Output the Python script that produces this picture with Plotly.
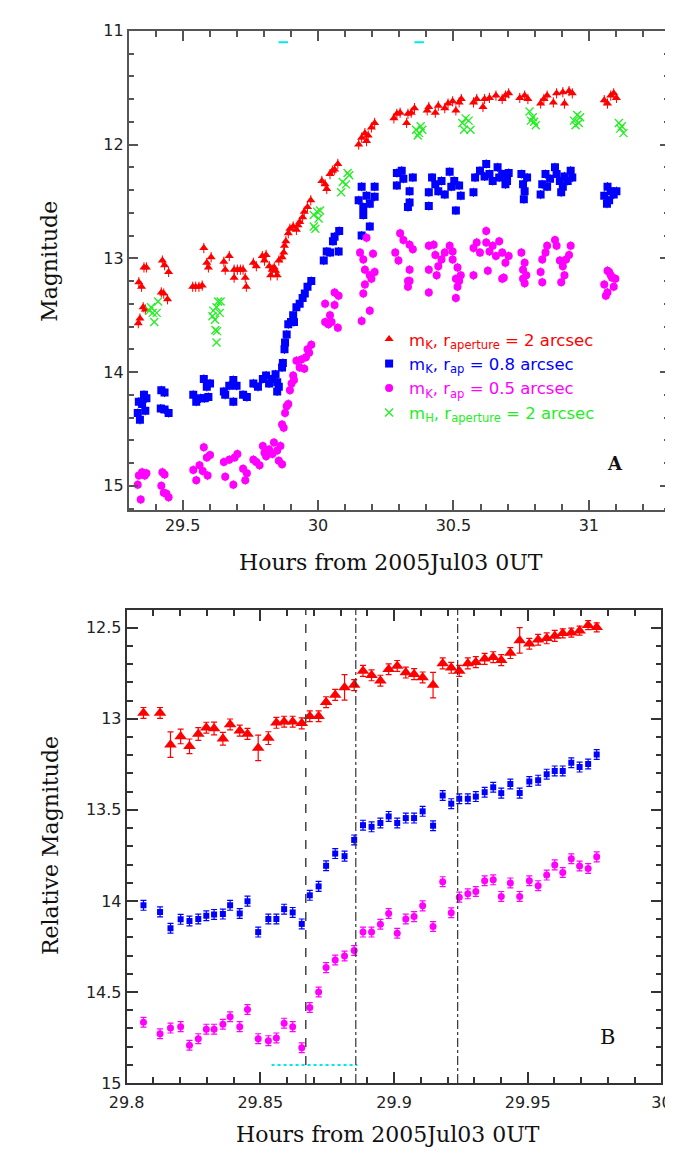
import plotly.graph_objects as go

# ---------------- Panel A data (hours, magnitude) ----------------
RED_A_X = [29.336, 29.342, 29.354, 29.362, 29.338, 29.348, 29.357, 29.366, 29.425, 29.433, 29.448,
           29.421, 29.430, 29.444, 29.537, 29.548, 29.560, 29.572, 29.578, 29.589, 29.595, 29.605,
           29.652, 29.657, 29.672, 29.690, 29.702, 29.713, 29.723, 29.690, 29.731, 29.735,
           29.761, 29.772, 29.794, 29.808, 29.802, 29.820, 29.831, 29.843, 29.849, 29.825, 29.838,
           29.855, 29.867, 29.873, 29.876, 29.881, 29.890, 29.896, 29.908, 29.920, 29.926, 29.932,
           29.943, 29.949, 29.961, 29.973, 30.014, 30.026, 30.032, 30.044, 30.053, 30.061, 30.073,
           30.150, 30.161, 30.173, 30.185, 30.179, 30.197, 30.209, 30.280, 30.291, 30.303, 30.327,
           30.332, 30.344, 30.356, 30.403, 30.409, 30.433, 30.444, 30.468, 30.480, 30.497, 30.509,
           30.521, 30.529, 30.574, 30.586, 30.609, 30.615, 30.633, 30.657, 30.680, 30.692, 30.704,
           30.745, 30.763, 30.775, 30.822, 30.834, 30.846, 30.869, 30.881, 30.904, 30.910, 30.927,
           30.939, 31.057, 31.069, 31.081, 31.092, 31.102]
RED_A_Y = [13.57, 13.53, 13.43, 13.45, 13.21, 13.25, 13.08, 13.08, 13.02, 13.06, 13.12,
           13.30, 13.31, 13.36, 13.25, 13.25, 13.25, 13.24, 12.91, 13.04, 13.08, 12.99,
           13.03, 13.10, 12.98, 13.10, 13.10, 13.10, 13.10, 13.17, 13.17, 13.25,
           13.04, 13.07, 12.98, 12.97, 13.02, 13.07, 13.10, 13.11, 13.15, 13.15, 13.08,
           13.02, 12.99, 12.95, 12.89, 12.85, 12.78, 12.74, 12.72, 12.75, 12.71, 12.68,
           12.64, 12.59, 12.55, 12.49, 12.32, 12.35, 12.39, 12.26, 12.23, 12.22, 12.17,
           12.00, 11.94, 11.90, 11.92, 11.97, 11.85, 11.81, 11.77, 11.73, 11.72, 11.81,
           11.73, 11.72, 11.68, 11.70, 11.67, 11.72, 11.66, 11.68, 11.64, 11.62, 11.70,
           11.63, 11.60, 11.63, 11.60, 11.67, 11.60, 11.59, 11.57, 11.60, 11.57, 11.55,
           11.59, 11.57, 11.60, 11.64, 11.60, 11.57, 11.63, 11.55, 11.54, 11.64, 11.53,
           11.55, 11.61, 11.64, 11.57, 11.55, 11.59]

BLUE_A_X = [29.334, 29.342, 29.338, 29.350, 29.357, 29.366, 29.362, 29.421, 29.433, 29.419, 29.433, 29.448,
            29.539, 29.550, 29.566, 29.581, 29.595, 29.578, 29.589, 29.601,
            29.652, 29.657, 29.672, 29.687, 29.699, 29.687, 29.723, 29.737,
            29.761, 29.778, 29.796, 29.808, 29.819, 29.831, 29.843, 29.849, 29.855, 29.849,
            29.867, 29.870, 29.876, 29.878, 29.884, 29.890, 29.900, 29.911, 29.908, 29.920,
            29.932, 29.943, 29.951, 29.961, 29.975,
            30.021, 30.032, 30.044, 30.055, 30.061, 30.076, 30.078,
            30.150, 30.161, 30.167, 30.179, 30.191, 30.209, 30.209, 30.167, 30.191, 30.161,
            30.291, 30.309, 30.291, 30.315, 30.338, 30.338, 30.332, 30.350,
            30.409, 30.409, 30.421, 30.433, 30.444, 30.456, 30.468, 30.486, 30.492, 30.503, 30.509, 30.521, 30.527,
            30.574, 30.580, 30.598, 30.615, 30.621, 30.633, 30.645, 30.663, 30.669, 30.680, 30.692, 30.704, 30.698,
            30.751, 30.757, 30.763, 30.772, 30.760,
            30.822, 30.828, 30.840, 30.846, 30.857, 30.875, 30.881, 30.893, 30.904, 30.910, 30.922, 30.933, 30.939, 30.898,
            31.057, 31.069, 31.081, 31.092, 31.102, 31.067, 31.075]
BLUE_A_Y = [14.36, 14.42, 14.26, 14.28, 14.20, 14.23, 14.34, 14.16, 14.18, 14.32, 14.33, 14.36,
            14.20, 14.26, 14.23, 14.23, 14.22, 14.06, 14.13, 14.10,
            14.17, 14.20, 14.12, 14.07, 14.12, 14.26, 14.20, 14.22,
            14.10, 14.13, 14.06, 14.03, 14.10, 14.06, 14.02, 14.09, 14.13, 14.17,
            13.96, 13.92, 13.80, 13.74, 13.67, 13.58, 13.56, 13.56, 13.50, 13.43,
            13.40, 13.35, 13.31, 13.25, 13.20,
            13.02, 12.94, 12.95, 12.85, 12.81, 12.94, 12.76,
            12.49, 12.37, 12.55, 12.45, 12.52, 12.37, 12.46, 12.62, 12.72, 12.80,
            12.25, 12.23, 12.36, 12.30, 12.41, 12.51, 12.55, 12.29,
            12.54, 12.42, 12.29, 12.35, 12.41, 12.32, 12.44, 12.24, 12.37, 12.32, 12.58, 12.36, 12.45,
            12.42, 12.29, 12.23, 12.28, 12.17, 12.26, 12.32, 12.20, 12.29, 12.26, 12.35, 12.25, 12.32,
            12.26, 12.35, 12.41, 12.29, 12.48,
            12.44, 12.35, 12.26, 12.37, 12.30, 12.20, 12.26, 12.32, 12.37, 12.28, 12.32, 12.23, 12.29, 12.42,
            12.45, 12.37, 12.41, 12.44, 12.41, 12.52, 12.49]

MAG_A_X = [29.334, 29.338, 29.345, 29.350, 29.360, 29.366,
           29.421, 29.425, 29.433, 29.430, 29.440, 29.448,
           29.539, 29.550, 29.562, 29.574, 29.578, 29.589, 29.601, 29.592,
           29.652, 29.657, 29.672, 29.687, 29.692, 29.702, 29.723, 29.731, 29.737,
           29.761, 29.772, 29.784, 29.796, 29.802, 29.808, 29.819, 29.831, 29.837, 29.849, 29.855, 29.867, 29.861,
           29.867, 29.873, 29.878, 29.884, 29.890, 29.896, 29.902, 29.911, 29.908, 29.920, 29.932, 29.938,
           29.949, 29.955, 29.961, 29.967, 29.975,
           30.026, 30.038, 30.050, 30.026, 30.044, 30.061, 30.061, 30.076, 30.073,
           30.179, 30.155, 30.167, 30.173, 30.191, 30.203, 30.209, 30.167, 30.161, 30.191, 30.173, 30.197,
           30.303, 30.315, 30.285, 30.297, 30.338, 30.350, 30.338, 30.332, 30.332, 30.338,
           30.409, 30.427, 30.433, 30.444, 30.409, 30.456, 30.468, 30.486, 30.497, 30.497, 30.515, 30.527,
           30.509, 30.438, 30.509, 30.515, 30.521, 30.409,
           30.574, 30.586, 30.598, 30.621, 30.621, 30.633, 30.645, 30.657, 30.669, 30.680, 30.692, 30.704,
           30.627, 30.574, 30.680, 30.686,
           30.751, 30.763, 30.769, 30.757, 30.757, 30.763,
           30.828, 30.840, 30.846, 30.822, 30.828, 30.875, 30.881, 30.893, 30.904, 30.916, 30.927, 30.933,
           30.898, 30.910,
           31.057, 31.075, 31.086, 31.098, 31.092, 31.063, 31.069, 31.069, 31.081]
MAG_A_Y = [14.99, 14.91, 15.12, 14.88, 14.91, 14.89,
           15.00, 14.88, 14.90, 15.06, 15.07, 15.10,
           14.86, 14.95, 14.82, 14.87, 14.66, 14.75, 14.73, 14.91,
           14.79, 14.92, 14.77, 14.99, 14.75, 14.72, 14.85, 14.95, 14.89,
           14.77, 14.79, 14.82, 14.65, 14.71, 14.74, 14.68, 14.72, 14.62, 14.69, 14.78, 14.81, 14.65,
           14.46, 14.49, 14.36, 14.30, 14.28, 14.16, 14.10, 14.07, 14.03, 13.90, 13.96, 13.89,
           13.97, 13.87, 13.80, 13.83, 13.76,
           13.56, 13.58, 13.56, 13.40, 13.50, 13.41, 13.30, 13.33, 13.61,
           12.82, 12.95, 13.01, 13.10, 13.15, 12.96, 13.12, 13.31, 13.55, 13.46, 13.23, 13.18,
           12.78, 12.84, 12.95, 13.02, 12.88, 12.92, 13.10, 13.20, 13.25, 13.20,
           12.89, 12.88, 12.97, 13.07, 13.10, 13.01, 12.95, 12.89, 12.94, 13.01, 13.08, 13.15,
           13.18, 13.15, 13.35, 13.25, 13.20, 13.30,
           12.91, 12.86, 12.95, 12.76, 12.86, 12.94, 12.89, 12.98, 12.85, 12.95, 13.04, 12.98,
           13.11, 13.15, 13.18, 13.17,
           12.95, 13.04, 13.15, 13.10, 13.18, 13.22,
           13.01, 12.95, 12.89, 13.12, 13.21, 12.84, 12.89, 13.02, 13.07, 13.01, 12.97, 12.89,
           13.21, 13.15,
           13.23, 13.12, 13.17, 13.18, 13.25, 13.33, 13.30, 13.11, 13.15]

GREEN_A_X = [29.377, 29.383, 29.389, 29.395, 29.404, 29.409,
             29.610, 29.613, 29.619, 29.625, 29.631, 29.637, 29.621, 29.627, 29.625, 29.640,
             29.984, 29.996, 30.007, 30.002, 29.984, 29.990,
             30.085, 30.091, 30.103, 30.109, 30.115,
             30.362, 30.368, 30.373, 30.379, 30.385,
             30.533, 30.539, 30.545, 30.556, 30.563,
             30.781, 30.786, 30.793, 30.798, 30.804,
             30.945, 30.951, 30.957, 30.963, 30.968,
             31.111, 31.116, 31.122, 31.128]
GREEN_A_Y = [13.46, 13.43, 13.48, 13.56, 13.48, 13.38,
             13.51, 13.46, 13.54, 13.43, 13.38, 13.48, 13.63, 13.64, 13.74, 13.38,
             12.62, 12.59, 12.58, 12.65, 12.72, 12.74,
             12.42, 12.33, 12.35, 12.25, 12.27,
             11.87, 11.92, 11.90, 11.84, 11.87,
             11.81, 11.87, 11.77, 11.79, 11.87,
             11.71, 11.79, 11.76, 11.80, 11.83,
             11.79, 11.83, 11.74, 11.81, 11.76,
             11.81, 11.86, 11.84, 11.90]

# cyan bars (time intervals) in panel A
CYAN_A_1 = [29.854, 29.889]
CYAN_A_2 = [30.356, 30.391]
CYAN_A_MAG = 11.1

# ---------------- Panel B data ----------------
T_B = [29.8063, 29.8125, 29.8164, 29.8202, 29.8235, 29.8268, 29.8298, 29.8327, 29.8360, 29.8387,
       29.8423, 29.8452, 29.8492, 29.8530, 29.8560, 29.8589, 29.8621, 29.8655, 29.8685, 29.8718,
       29.8746, 29.8780, 29.8815, 29.8851, 29.8884, 29.8916, 29.8949, 29.8980, 29.9012, 29.9044,
       29.9075, 29.9107, 29.9146, 29.9182, 29.9214, 29.9244, 29.9276, 29.9306, 29.9339, 29.9371,
       29.9401, 29.9435, 29.9470, 29.9506, 29.9539, 29.9571, 29.9601, 29.9631, 29.9663, 29.9694,
       29.9726, 29.9758]
RED_B = [12.968, 12.968, 13.142, 13.097, 13.151, 13.083, 13.049, 13.053, 13.110, 13.031,
         13.065, 13.083, 13.160, 13.106, 13.022, 13.016, 13.016, 13.025, 12.986, 12.986,
         12.909, 12.869, 12.828, 12.815, 12.737, 12.761, 12.791, 12.728, 12.710, 12.746,
         12.755, 12.773, 12.815, 12.696, 12.720, 12.737, 12.696, 12.689, 12.671, 12.662,
         12.678, 12.639, 12.570, 12.588, 12.566, 12.558, 12.545, 12.531, 12.527, 12.516,
         12.486, 12.498]
RED_B_ERR = [0.03, 0.03, 0.07, 0.04, 0.04, 0.035, 0.03, 0.035, 0.035, 0.03,
             0.03, 0.03, 0.07, 0.035, 0.03, 0.03, 0.03, 0.03, 0.03, 0.03,
             0.03, 0.03, 0.07, 0.03, 0.03, 0.03, 0.03, 0.03, 0.03, 0.03,
             0.03, 0.03, 0.07, 0.03, 0.03, 0.03, 0.03, 0.03, 0.03, 0.03,
             0.03, 0.03, 0.07, 0.03, 0.03, 0.03, 0.03, 0.025, 0.025, 0.025,
             0.025, 0.025]
BLUE_B = [14.024, 14.060, 14.150, 14.101, 14.110, 14.099, 14.081, 14.074, 14.072, 14.024,
          14.069, 14.001, 14.171, 14.099, 14.099, 14.045, 14.063, 14.126, 13.969, 13.920,
          13.807, 13.740, 13.754, 13.665, 13.584, 13.593, 13.572, 13.536, 13.572, 13.545,
          13.545, 13.508, 13.587, 13.421, 13.466, 13.439, 13.439, 13.427, 13.403, 13.376,
          13.408, 13.358, 13.408, 13.344, 13.337, 13.304, 13.286, 13.286, 13.241, 13.265,
          13.248, 13.196]
MAG_B = [14.666, 14.729, 14.698, 14.690, 14.792, 14.756, 14.704, 14.704, 14.677, 14.636,
         14.690, 14.596, 14.756, 14.767, 14.752, 14.671, 14.690, 14.806, 14.585, 14.500,
         14.366, 14.324, 14.302, 14.272, 14.171, 14.171, 14.128, 14.069, 14.177, 14.099,
         14.086, 14.027, 14.140, 13.894, 14.065, 13.979, 13.961, 13.948, 13.889, 13.884,
         13.975, 13.901, 13.975, 13.889, 13.916, 13.858, 13.802, 13.844, 13.768, 13.808,
         13.822, 13.758]
B_ERR = 0.027

VLINE_DASH_B = [29.867]
VLINE_DASHDOT_B = [29.8857, 29.9238]
CYAN_B = [29.8542, 29.8863]
CYAN_B_MAG = 14.9

# ---------------- tick labels ----------------
A_XTICKS = [29.5, 30.0, 30.5, 31.0]
A_XTICKTEXT = ["29.5", "30", "30.5", "31"]
A_YTICKS = [11, 12, 13, 14, 15]
A_YTICKTEXT = ["11", "12", "13", "14", "15"]
B_XTICKS = [29.8, 29.85, 29.9, 29.95, 30.0]
B_XTICKTEXT = ["29.8", "29.85", "29.9", "29.95", "30"]
B_YTICKS = [12.5, 13.0, 13.5, 14.0, 14.5, 15.0]
B_YTICKTEXT = ["12.5", "13", "13.5", "14", "14.5", "15"]

for a, b in [(RED_A_X, RED_A_Y), (BLUE_A_X, BLUE_A_Y), (MAG_A_X, MAG_A_Y), (GREEN_A_X, GREEN_A_Y)]:
    assert len(a) == len(b), (len(a), len(b))
for s in (RED_B, RED_B_ERR, BLUE_B, MAG_B):
    assert len(s) == len(T_B)

RED, BLUE, MAG, GREEN, CYAN = "#ff0000", "#0000ff", "#ff00ff", "#22ee22", "#00e8ee"
TICKFONT = dict(family="DejaVu Sans", size=16, color="#222")
TITLEFONT = dict(family="DejaVu Serif", size=22, color="#111")

fig = go.Figure()


def lab(color, txt):
    return f'<span style="color:{color}">{txt}</span>'


# ---- panel A traces ----
fig.add_trace(go.Scatter(
    x=RED_A_X, y=RED_A_Y, mode="markers", xaxis="x", yaxis="y",
    name=lab(RED, "m<sub>K</sub>, r<sub>aperture</sub> = 2 arcsec"),
    marker=dict(symbol="triangle-up", size=8, color=RED),
    error_y=dict(type="constant", value=0.045, color=RED, thickness=1, width=0)))
fig.add_trace(go.Scatter(
    x=BLUE_A_X, y=BLUE_A_Y, mode="markers", xaxis="x", yaxis="y",
    name=lab(BLUE, "m<sub>K</sub>, r<sub>ap</sub> = 0.8 arcsec"),
    marker=dict(symbol="square", size=8, color=BLUE),
    error_y=dict(type="constant", value=0.04, color=BLUE, thickness=1, width=0)))
fig.add_trace(go.Scatter(
    x=MAG_A_X, y=MAG_A_Y, mode="markers", xaxis="x", yaxis="y",
    name=lab(MAG, "m<sub>K</sub>, r<sub>ap</sub> = 0.5 arcsec"),
    marker=dict(symbol="circle", size=8, color=MAG),
    error_y=dict(type="constant", value=0.04, color=MAG, thickness=1, width=0)))
fig.add_trace(go.Scatter(
    x=GREEN_A_X, y=GREEN_A_Y, mode="markers", xaxis="x", yaxis="y",
    name=lab(GREEN, "m<sub>H</sub>, r<sub>aperture</sub> = 2 arcsec"),
    marker=dict(symbol="x-thin-open", size=8, color=GREEN, line=dict(width=1.3, color=GREEN))))
for seg in (CYAN_A_1, CYAN_A_2):
    fig.add_trace(go.Scatter(x=seg, y=[CYAN_A_MAG, CYAN_A_MAG], mode="lines", xaxis="x", yaxis="y",
                             line=dict(color=CYAN, width=2), showlegend=False, hoverinfo="skip"))

# ---- panel B traces ----
fig.add_trace(go.Scatter(
    x=T_B, y=RED_B, mode="markers", xaxis="x2", yaxis="y2", showlegend=False,
    marker=dict(symbol="triangle-up", size=11, color=RED),
    error_y=dict(type="data", array=RED_B_ERR, color=RED, thickness=1.2, width=3)))
fig.add_trace(go.Scatter(
    x=T_B, y=BLUE_B, mode="markers", xaxis="x2", yaxis="y2", showlegend=False,
    marker=dict(symbol="square", size=6, color=BLUE),
    error_y=dict(type="constant", value=B_ERR, color=BLUE, thickness=1.2, width=3)))
fig.add_trace(go.Scatter(
    x=T_B, y=MAG_B, mode="markers", xaxis="x2", yaxis="y2", showlegend=False,
    marker=dict(symbol="circle", size=7, color=MAG),
    error_y=dict(type="constant", value=B_ERR, color=MAG, thickness=1.2, width=3)))
fig.add_trace(go.Scatter(x=CYAN_B, y=[CYAN_B_MAG, CYAN_B_MAG], mode="lines", xaxis="x2", yaxis="y2",
                         line=dict(color=CYAN, width=2, dash="dot"), showlegend=False, hoverinfo="skip"))

shapes = []
for xv in VLINE_DASH_B:
    shapes.append(dict(type="line", xref="x2", yref="y2 domain", x0=xv, x1=xv, y0=0, y1=1,
                       line=dict(color="#444", width=1.5, dash="dash")))
for xv in VLINE_DASHDOT_B:
    shapes.append(dict(type="line", xref="x2", yref="y2 domain", x0=xv, x1=xv, y0=0, y1=1,
                       line=dict(color="#333", width=1.2, dash="dashdot")))

W, H = 673, 1151
A_X_RANGE, A_Y_RANGE = [29.30, 31.30], [15.21, 11.0]
B_X_RANGE, B_Y_RANGE = [29.8, 30.0], [15.0, 12.403]


def minor_vals(lo, hi, step):
    n = int(round((hi - lo) / step))
    return [round(lo + i * step, 4) for i in range(n + 1)]


def axis(color, lw, rng, tickvals, ticktext, minorvals, ticklen, **kw):
    d = dict(showline=True, linecolor=color, linewidth=lw, mirror="allticks", ticks="inside",
             tickcolor=color, tickwidth=2, showgrid=False, zeroline=False, tickfont=TICKFONT,
             range=rng, autorange=False, tickmode="array", tickvals=tickvals, ticktext=ticktext,
             ticklen=ticklen,
             minor=dict(tickmode="array", tickvals=minorvals, ticks="inside", ticklen=6, tickcolor=color,
                        tickwidth=1.6, showgrid=False))
    d.update(kw)
    return d


xa = axis("#555", 1.5, A_X_RANGE, A_XTICKS, A_XTICKTEXT, minor_vals(29.3, 31.3, 0.1), 10,
          domain=[107 / W, 672 / W], anchor="y")
ya = axis("#555", 1.5, A_Y_RANGE, A_YTICKS, A_YTICKTEXT, minor_vals(11.0, 15.2, 0.2), 10,
          domain=[(H - 501) / H, (H - 14) / H], anchor="x")
xb = axis("#333", 1.8, B_X_RANGE, B_XTICKS, B_XTICKTEXT, minor_vals(29.8, 30.0, 0.01), 11,
          domain=[105 / W, 663 / W], anchor="y2", ticklabelstandoff=4)
yb = axis("#333", 1.8, B_Y_RANGE, B_YTICKS, B_YTICKTEXT, minor_vals(12.5, 15.0, 0.1), 11,
          domain=[(H - 1084) / H, (H - 603) / H], anchor="x2")


def note(text, px, py, font, angle=0):
    return dict(text=text, x=px / W, y=(H - py) / H, xref="paper", yref="paper", textangle=angle,
                xanchor="center", yanchor="middle", showarrow=False, font=font)


annotations = [
    note("Magnitude", 25, 248, TITLEFONT, -90),
    note("Hours from 2005Jul03 0UT", 381, 555, TITLEFONT),
    note("Relative Magnitude", 25, 842, TITLEFONT, -90),
    note("Hours from 2005Jul03 0UT", 378, 1136, TITLEFONT),
    note("<b>A</b>", 615, 454, dict(family="DejaVu Serif", size=18, color="#111")),
    note("B", 607, 1037, dict(family="DejaVu Serif", size=21, color="#111")),
]

fig.update_layout(
    width=W, height=H, margin=dict(l=0, r=0, t=0, b=0),
    paper_bgcolor="white", plot_bgcolor="white",
    xaxis=xa, yaxis=ya, xaxis2=xb, yaxis2=yb,
    shapes=shapes, annotations=annotations,
    showlegend=True,
    legend=dict(x=(380 - 22) / W, y=(H - 310) / H, xanchor="left", yanchor="top",
                bgcolor="rgba(0,0,0,0)", font=dict(family="DejaVu Sans", size=16.5),
                tracegroupgap=0, itemwidth=30),
)

fig.write_html("out.html")
